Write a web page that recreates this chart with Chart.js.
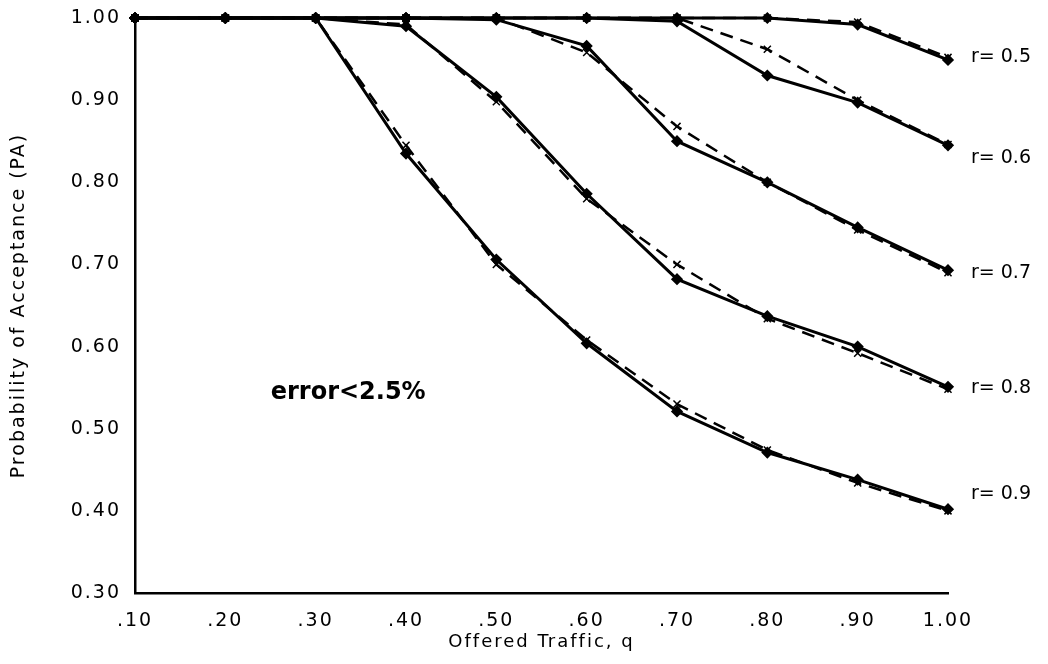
<!DOCTYPE html>
<html>
<head>
<meta charset="utf-8">
<script src="https://cdn.jsdelivr.net/npm/chart.js@4/dist/chart.umd.min.js"></script>
<style>
    body { margin: 0; background: #fff; }
    #wrap { width: 1048px; height: 664px; }
</style>
</head>
<body>
<div id="wrap"><canvas id="paChart"></canvas></div>
<script>
const qValues = [0.1, 0.2, 0.3, 0.4, 0.5, 0.6, 0.7, 0.8, 0.9, 1.0];
const xTickLabels = ['.10', '.20', '.30', '.40', '.50', '.60', '.70', '.80', '.90', '1.00'];
const seriesNames = ['r= 0.5', 'r= 0.6', 'r= 0.7', 'r= 0.8', 'r= 0.9'];

// solid lines (exact)
const exact05 = [1, 1, 1, 1, 1, 1, 1, 1, 0.992, 0.949];
const exact06 = [1, 1, 1, 1, 1, 1, 0.996, 0.930, 0.897, 0.845];
const exact07 = [1, 1, 1, 1, 0.998, 0.966, 0.850, 0.800, 0.745, 0.693];
const exact08 = [1, 1, 1, 0.990, 0.904, 0.786, 0.682, 0.637, 0.600, 0.551];
const exact09 = [1, 1, 1, 0.835, 0.706, 0.604, 0.521, 0.471, 0.438, 0.402];

// dashed lines (approximation)
const approx05 = [1, 1, 1, 1, 1, 1, 1, 1, 0.995, 0.952];
const approx06 = [1, 1, 1, 1, 1, 1, 1, 0.962, 0.900, 0.846];
const approx07 = [1, 1, 1, 1, 1, 0.958, 0.868, 0.800, 0.742, 0.690];
const approx08 = [1, 1, 1, 0.992, 0.898, 0.780, 0.700, 0.634, 0.592, 0.548];
const approx09 = [1, 1, 1, 0.845, 0.700, 0.608, 0.530, 0.474, 0.434, 0.400];

const yTicks = [0.3, 0.4, 0.5, 0.6, 0.7, 0.8, 0.9, 1.0];
const errorNote = 'error<2.5%';

function toPoints(vals) {
    return vals.map(function (v, i) { return { x: qValues[i], y: v }; });
}

function dashedSet(vals) {
    return {
        data: toPoints(vals),
        borderColor: '#000',
        borderWidth: 2.5,
        borderDash: [13, 8],
        pointStyle: 'crossRot',
        pointRadius: 5,
        pointBorderWidth: 1.5,
        pointBorderColor: '#000',
        fill: false,
        tension: 0,
        clip: false
    };
}

function solidSet(vals) {
    return {
        data: toPoints(vals),
        borderColor: '#000',
        borderWidth: 3,
        pointStyle: 'rectRot',
        pointRadius: 4,
        pointBackgroundColor: '#000',
        pointBorderColor: '#000',
        fill: false,
        tension: 0,
        clip: false
    };
}

const approxAll = [approx05, approx06, approx07, approx08, approx09];
const exactAll = [exact05, exact06, exact07, exact08, exact09];
const datasets = approxAll.map(dashedSet).concat(exactAll.map(solidSet));

// where the curve names and note sit (in data units)
const nameSpots = [0.952, 0.829, 0.690, 0.549, 0.421];

const spacingPlugin = {
    id: 'spacing',
    beforeDraw: function (chart) { chart.ctx.letterSpacing = '2px'; },
    afterDatasetsDraw: function (chart) { chart.ctx.letterSpacing = '0px'; }
};

const notesPlugin = {
    id: 'notes',
    afterDraw: function (chart) {
        var ctx = chart.ctx;
        var xs = chart.scales.x, ys = chart.scales.y;
        ctx.save();
        ctx.letterSpacing = '0px';
        ctx.fillStyle = '#000';
        ctx.textBaseline = 'middle';
        ctx.textAlign = 'left';
        ctx.font = '19px "DejaVu Sans"';
        seriesNames.forEach(function (name, i) {
            ctx.fillText(name, chart.chartArea.right + 23, ys.getPixelForValue(nameSpots[i]));
        });
        ctx.font = 'bold 24px "DejaVu Sans"';
        ctx.textAlign = 'center';
        ctx.fillText(errorNote, xs.getPixelForValue(0.336), ys.getPixelForValue(0.544));
        ctx.restore();
    }
};

new Chart(document.getElementById('paChart'), {
    type: 'line',
    data: { datasets: datasets },
    plugins: [spacingPlugin, notesPlugin],
    options: {
        responsive: true,
        maintainAspectRatio: false,
        animation: false,
        layout: { padding: { top: 18, right: 100, left: 0, bottom: 0 } },
        plugins: { legend: { display: false }, tooltip: { enabled: false } },
        scales: {
            x: {
                type: 'linear',
                min: 0.1,
                max: 1.0,
                afterBuildTicks: function (scale) {
                    scale.ticks = qValues.map(function (v) { return { value: v }; });
                },
                afterFit: function (scale) { scale.height = 71; },
                ticks: {
                    color: '#000',
                    font: { family: 'DejaVu Sans', size: 19 },
                    padding: 7,
                    maxRotation: 0,
                    autoSkip: false,
                    callback: function (value) {
                        return xTickLabels[Math.round(value * 10) - 1];
                    }
                },
                grid: { display: false, drawOnChartArea: false, drawTicks: true, tickLength: 10, tickColor: '#000', tickWidth: 2 },
                border: { display: true, color: '#000', width: 2.5 },
                title: {
                    display: true,
                    text: 'Offered Traffic, q',
                    color: '#000',
                    font: { family: 'DejaVu Sans', size: 18 },
                    padding: { top: 0, bottom: 11 }
                }
            },
            y: {
                type: 'linear',
                min: 0.3,
                max: 1.0,
                afterBuildTicks: function (scale) {
                    scale.ticks = yTicks.map(function (v) { return { value: v }; });
                },
                afterFit: function (scale) { scale.width = 135; },
                ticks: {
                    color: '#000',
                    font: { family: 'DejaVu Sans', size: 19 },
                    padding: 6,
                    callback: function (value) { return value.toFixed(2); }
                },
                grid: { display: false, drawOnChartArea: false, drawTicks: true, tickLength: 8, tickColor: '#000', tickWidth: 2 },
                border: { display: true, color: '#000', width: 2.5 },
                title: {
                    display: true,
                    text: 'Probability of Acceptance (PA)',
                    color: '#000',
                    font: { family: 'DejaVu Sans', size: 19 },
                    padding: { top: 8, bottom: 4 }
                }
            }
        }
    }
});
</script>
</body>
</html>
